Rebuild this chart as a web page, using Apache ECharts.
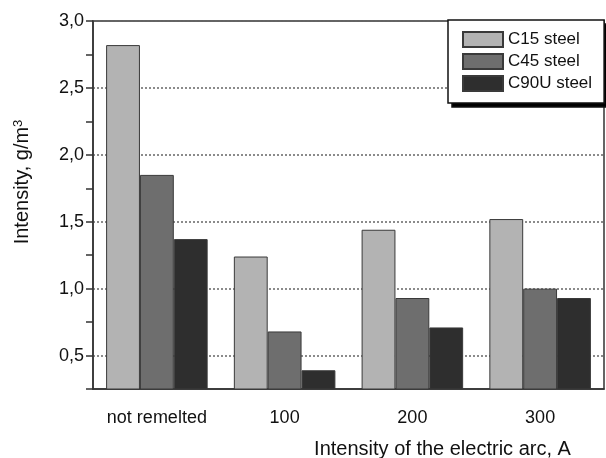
<!DOCTYPE html>
<html>
<head>
<meta charset="utf-8">
<script src="https://cdn.jsdelivr.net/npm/echarts@6/dist/echarts.min.js"></script>
<style>
  html, body { margin: 0; padding: 0; background: #fff; }
  #chart { width: 606px; height: 458px; }
</style>
</head>
<body>
<div id="chart"></div>
<script>
// data
const categories = ['not remelted', '100', '200', '300'];
const seriesNames = ['C15 steel', 'C45 steel', 'C90U steel'];
const c15 = [2.82, 1.24, 1.44, 1.52];
const c45 = [1.85, 0.68, 0.93, 1.00];
const c90u = [1.37, 0.39, 0.71, 0.93];
const yMin = 0.25;
const yMax = 3.0;
const yStep = 0.25;

const colors = ['#b3b3b3', '#6e6e6e', '#2e2e2e'];
const font = "'Liberation Sans', Arial, sans-serif";

let myChart = echarts.init(document.getElementById('chart'));

function bar (name, data, color) {
  return {
    name: name,
    type: 'bar',
    barWidth: '26.5%',
    barGap: '0%',
    itemStyle: {
      color: color,
      borderColor: '#3a3a3a',
      borderWidth: 1
    },
    data: data
  };
}

// same box twice: the back one, shifted and black, is the drop shadow
function legendBox (left, top, back) {
  return {
    orient: 'vertical',
    left: left,
    top: top,
    z: back ? 3 : 5,
    icon: 'rect',
    itemWidth: 40,
    itemHeight: 15,
    itemGap: 5,
    padding: [11, 12, 11, 14],
    backgroundColor: back ? '#000' : '#fff',
    borderColor: '#111',
    borderWidth: 1.5,
    selectedMode: !back,
    itemStyle: back ? { opacity: 0 } : {},
    textStyle: { fontSize: 17, color: back ? 'rgba(0,0,0,0)' : '#111', fontFamily: font },
    data: seriesNames
  };
}

myChart.setOption({
  animation: false,
  textStyle: { fontFamily: font },
  grid: {
    left: 93,
    right: 2,
    top: 21,
    bottom: 69,
    outerBoundsMode: 'none',
    show: true,
    borderColor: '#333',
    borderWidth: 1.5
  },
  legend: [legendBox(452, 24, true), legendBox(448, 20, false)],
  xAxis: [{
    type: 'category',
    data: categories,
    position: 'bottom',
    name: 'Intensity of the electric arc, A',
    nameLocation: 'middle',
    nameGap: 50,
    nameTextStyle: { fontSize: 20, color: '#111', padding: [0, 0, 0, 188] },
    axisLine: { lineStyle: { color: '#333', width: 1.5 } },
    axisTick: { alignWithLabel: false, length: 4, lineStyle: { color: '#333', width: 1.5 } },
    axisLabel: { fontSize: 18, color: '#111', margin: 20, interval: 0 }
  }, {
    type: 'category',
    data: categories,
    position: 'bottom',
    axisLine: { show: false },
    axisTick: { alignWithLabel: true, length: 7, lineStyle: { color: '#333', width: 1.5 } },
    axisLabel: { show: false }
  }],
  yAxis: {
    type: 'value',
    min: yMin,
    max: yMax,
    interval: yStep,
    name: '{a|Intensity, g/m}{s|3}',
    nameLocation: 'middle',
    nameGap: 60,
    nameTextStyle: {
      padding: [0, 0, 0, 46],
      rich: {
        a: { fontSize: 20, color: '#111', fontFamily: font },
        s: { fontSize: 13, color: '#111', fontFamily: font, verticalAlign: 'top', padding: [0, 0, 8, 0] }
      }
    },
    axisLine: { show: true, lineStyle: { color: '#333', width: 1.5 } },
    axisTick: { show: true, length: 7, lineStyle: { color: '#333', width: 1.5 } },
    axisLabel: {
      fontSize: 18,
      color: '#111',
      margin: 9,
      formatter: function (v) {
        return Math.abs(v * 2 - Math.round(v * 2)) < 1e-6 ? v.toFixed(1).replace('.', ',') : '';
      }
    },
    splitLine: {
      show: true,
      lineStyle: { color: ['rgba(0,0,0,0)', '#666'], type: [2, 2], width: 1.5 }
    }
  },
  series: [
    bar(seriesNames[0], c15, colors[0]),
    bar(seriesNames[1], c45, colors[1]),
    bar(seriesNames[2], c90u, colors[2])
  ]
});
</script>
</body>
</html>
